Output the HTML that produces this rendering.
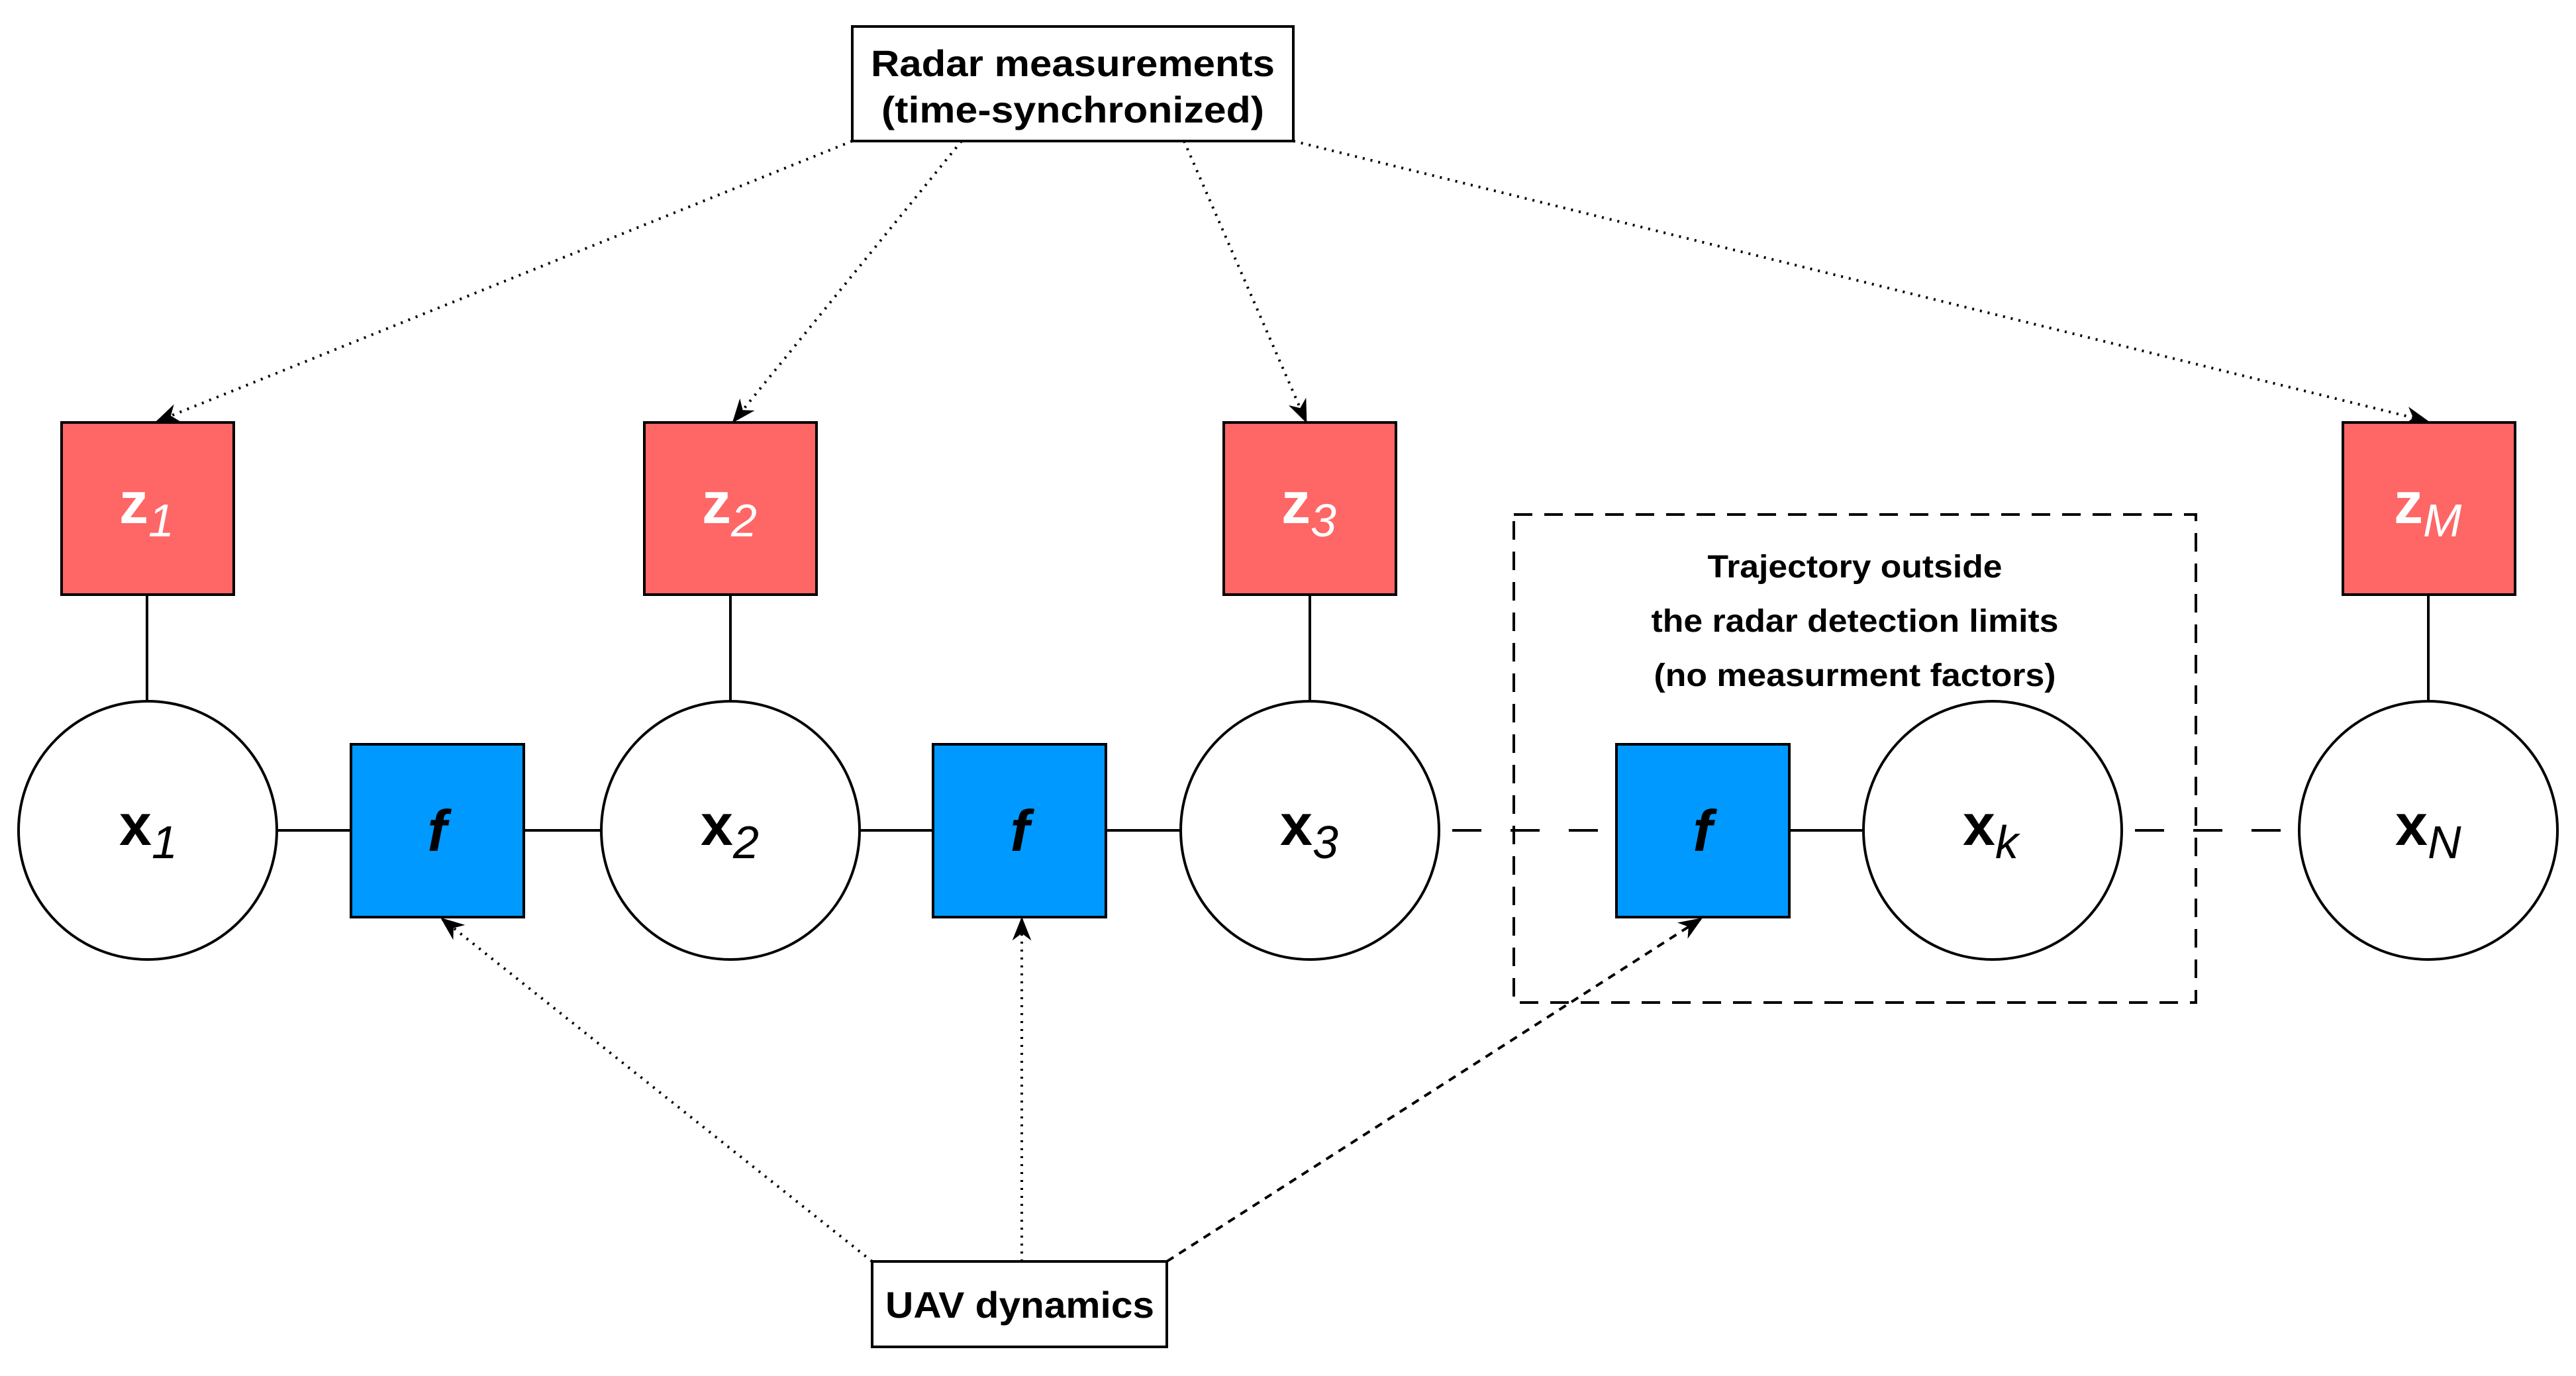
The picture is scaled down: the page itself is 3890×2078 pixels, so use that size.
<!DOCTYPE html>
<html><head><meta charset="utf-8"><style>
html,body{margin:0;padding:0;background:#fff;}
svg{display:block;}
text{font-family:"Liberation Sans",Arial,sans-serif;}
</style></head><body>
<svg width="3890" height="2078" viewBox="0 0 3890 2078" xmlns="http://www.w3.org/2000/svg">
<defs>
<marker id="ar" viewBox="0 0 20 20" refX="18" refY="10" markerWidth="9" markerHeight="9" markerUnits="strokeWidth" orient="auto">
<path d="M0,2 L20,10 L0,18 L6,10 Z" fill="#000"/>
</marker>
</defs>
<g stroke="#000" stroke-width="4" fill="none">
<!-- solid connectors -->
<line x1="222" y1="898" x2="222" y2="1059"/>
<line x1="1103" y1="898" x2="1103" y2="1059"/>
<line x1="1978" y1="898" x2="1978" y2="1059"/>
<line x1="3667" y1="898" x2="3667" y2="1059"/>
<line x1="418" y1="1254" x2="530" y2="1254"/>
<line x1="791" y1="1254" x2="909" y2="1254"/>
<line x1="1297" y1="1254" x2="1409" y2="1254"/>
<line x1="1670" y1="1254" x2="1783" y2="1254"/>
<line x1="2702" y1="1254" x2="2814" y2="1254"/>
<!-- dashed chain -->
<line x1="2173" y1="1254" x2="2441" y2="1254" stroke-dasharray="44 44" stroke-dashoffset="-20"/>
<line x1="3204" y1="1254" x2="3473" y2="1254" stroke-dasharray="44 44" stroke-dashoffset="-20"/>
<!-- dashed box -->
<rect x="2286" y="777" width="1030" height="737" stroke-dasharray="28 18"/>
</g>
<!-- dotted arrows from radar -->
<g stroke="#000" stroke-width="4" fill="none" stroke-dasharray="3 9" marker-end="url(#ar)">
<line x1="1287" y1="213" x2="238" y2="636"/>
<line x1="1452" y1="213" x2="1108" y2="636"/>
<line x1="1788" y1="213" x2="1972" y2="636"/>
<line x1="1953" y1="213" x2="3665" y2="636"/>
<line x1="1317" y1="1905" x2="668" y2="1388"/>
<line x1="1543" y1="1905" x2="1543" y2="1388"/>
</g>
<line x1="1762" y1="1905" x2="2568" y2="1388" stroke="#000" stroke-width="4" stroke-dasharray="12 10" marker-end="url(#ar)"/>
<!-- red boxes -->
<g fill="#ff6666" stroke="#000" stroke-width="4">
<rect x="93" y="638" width="260" height="260"/>
<rect x="973" y="638" width="260" height="260"/>
<rect x="1848" y="638" width="260" height="260"/>
<rect x="3538" y="638" width="260" height="260"/>
</g>
<!-- blue boxes -->
<g fill="#0099ff" stroke="#000" stroke-width="4">
<rect x="530" y="1124" width="261" height="261"/>
<rect x="1409" y="1124" width="261" height="261"/>
<rect x="2441" y="1124" width="261" height="261"/>
</g>
<!-- circles -->
<g fill="#fff" stroke="#000" stroke-width="4">
<circle cx="223" cy="1254" r="195"/>
<circle cx="1103" cy="1254" r="195"/>
<circle cx="1978" cy="1254" r="195"/>
<circle cx="3009" cy="1254" r="195"/>
<circle cx="3667" cy="1254" r="195"/>
</g>
<!-- top/bottom boxes -->
<rect x="1287" y="40" width="666" height="173" fill="#fff" stroke="#000" stroke-width="4"/>
<rect x="1317" y="1905" width="445" height="129" fill="#fff" stroke="#000" stroke-width="4"/>
<g font-weight="bold" font-size="56" text-anchor="middle" fill="#000">
<text x="1620" y="115" textLength="610" lengthAdjust="spacingAndGlyphs">Radar measurements</text>
<text x="1620" y="185" textLength="578" lengthAdjust="spacingAndGlyphs">(time-synchronized)</text>
<text x="1540" y="1990" textLength="406" lengthAdjust="spacingAndGlyphs">UAV dynamics</text>
</g>
<g font-weight="bold" font-size="48" text-anchor="middle" fill="#000">
<text x="2801" y="872" textLength="445" lengthAdjust="spacingAndGlyphs">Trajectory outside</text>
<text x="2801" y="954" textLength="615" lengthAdjust="spacingAndGlyphs">the radar detection limits</text>
<text x="2801" y="1036" textLength="607" lengthAdjust="spacingAndGlyphs">(no measurment factors)</text>
</g>
<!-- node labels -->
<g font-size="88" fill="#000">
<text x="180" y="1276" font-weight="bold">x<tspan font-weight="normal" font-style="italic" font-size="70" dy="20">1</tspan></text>
<text x="1058" y="1276" font-weight="bold">x<tspan font-weight="normal" font-style="italic" font-size="70" dy="20">2</tspan></text>
<text x="1933" y="1276" font-weight="bold">x<tspan font-weight="normal" font-style="italic" font-size="70" dy="20">3</tspan></text>
<text x="2964" y="1276" font-weight="bold">x<tspan font-weight="normal" font-style="italic" font-size="70" dy="20">k</tspan></text>
<text x="3617" y="1276" font-weight="bold">x<tspan font-weight="normal" font-style="italic" font-size="70" dy="20">N</tspan></text>
<text x="660" y="1285" font-weight="bold" font-style="italic" text-anchor="middle">f</text>
<text x="1540" y="1285" font-weight="bold" font-style="italic" text-anchor="middle">f</text>
<text x="2571" y="1285" font-weight="bold" font-style="italic" text-anchor="middle">f</text>
</g>
<g font-size="88" fill="#fff">
<text x="180" y="790" font-weight="bold">z<tspan font-weight="normal" font-style="italic" font-size="70" dy="20">1</tspan></text>
<text x="1060" y="790" font-weight="bold">z<tspan font-weight="normal" font-style="italic" font-size="70" dy="20">2</tspan></text>
<text x="1935" y="790" font-weight="bold">z<tspan font-weight="normal" font-style="italic" font-size="70" dy="20">3</tspan></text>
<text x="3615" y="790" font-weight="bold">z<tspan font-weight="normal" font-style="italic" font-size="70" dy="20">M</tspan></text>
</g>
</svg>
</body></html>
